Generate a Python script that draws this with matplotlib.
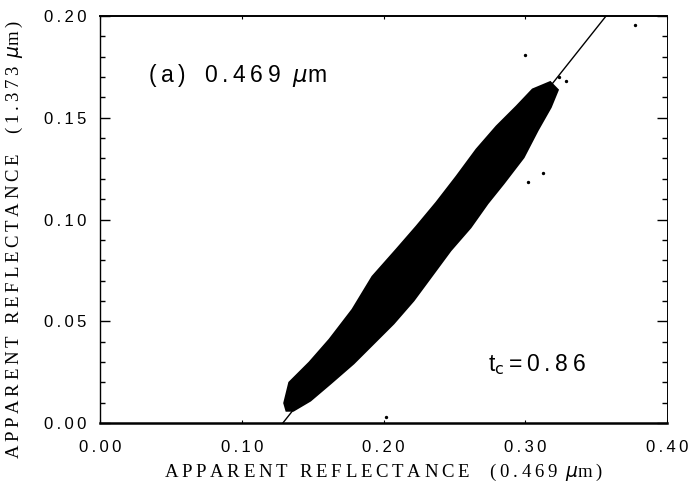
import matplotlib
matplotlib.use("Agg")
import matplotlib.pyplot as plt
from matplotlib.ticker import MultipleLocator

# Outline of the dense scatter cloud (x = 0.469 um reflectance, y = 1.373 um reflectance)
cloud_upper_x = [0.1305, 0.1340, 0.1481, 0.1623, 0.1785, 0.1926, 0.2095, 0.2236,
                 0.2377, 0.2519, 0.2660, 0.2801, 0.2942, 0.3055, 0.3175]
cloud_upper_y = [0.0098, 0.0197, 0.0295, 0.0408, 0.0555, 0.0717, 0.0850, 0.0963,
                 0.1081, 0.1209, 0.1342, 0.1455, 0.1553, 0.1636, 0.1671]
cloud_lower_x = [0.3224, 0.3175, 0.3083, 0.2984, 0.2843, 0.2730, 0.2610, 0.2469,
                 0.2328, 0.2208, 0.2067, 0.1926, 0.1785, 0.1623, 0.1481, 0.1362, 0.1319]
cloud_lower_y = [0.1636, 0.1553, 0.1440, 0.1307, 0.1179, 0.1081, 0.0963, 0.0850,
                 0.0717, 0.0604, 0.0491, 0.0393, 0.0295, 0.0197, 0.0113, 0.0064, 0.0064]

# A few isolated points outside the cloud
stray_x = [0.2998, 0.3125, 0.3020, 0.2018, 0.3774, 0.3240, 0.3290]
stray_y = [0.1808, 0.1229, 0.1184, 0.0030, 0.1956, 0.1700, 0.1680]

# Fitted line end points
line_x = [0.129, 0.357]
line_y = [0.0, 0.200]

x_ticks = [0.00, 0.10, 0.20, 0.30, 0.40]
y_ticks = [0.00, 0.05, 0.10, 0.15, 0.20]

TS = "\u2009"  # thin space used as letter spacing (the scanned type is widely spaced)


def spaced(s):
    return TS.join(s)


SANS = ["Liberation Sans", "DejaVu Sans"]
SERIF = ["Liberation Serif", "DejaVu Serif"]

fig = plt.figure(figsize=(6.94, 4.93), dpi=100)
ax = fig.add_axes([100/694, 1-423/493, 567/694, 407/493])

ax.fill(cloud_upper_x + cloud_lower_x, cloud_upper_y + cloud_lower_y,
        facecolor="black", edgecolor="black", linewidth=2.5, zorder=2)
ax.scatter(stray_x, stray_y, s=2, color="black", zorder=2)
ax.plot(line_x, line_y, color="black", linewidth=1.0, zorder=3)

ax.set_xlim(0, 0.40)
ax.set_ylim(0, 0.20)
ax.set_xticks(x_ticks)
ax.set_yticks(y_ticks)
ax.set_xticklabels([spaced(f"{v:.2f}") for v in x_ticks], family=SANS, fontsize=12)
ax.set_yticklabels([spaced(f"{v:.2f}") for v in y_ticks], family=SANS, fontsize=12)
ax.yaxis.set_minor_locator(MultipleLocator(0.01))
ax.tick_params(axis="y", which="major", direction="in", length=7, width=1.0,
               left=True, right=True, pad=10)
ax.tick_params(axis="y", which="minor", direction="in", length=3.5, width=1.0,
               left=True, right=True)
ax.tick_params(axis="x", which="major", direction="in", length=2, width=0.8,
               top=True, bottom=True, pad=12)

for side, lw in [("left", 1.0), ("right", 0.7), ("top", 1.4), ("bottom", 1.8)]:
    ax.spines[side].set_linewidth(lw)

ax.set_xlabel(spaced("APPARENT REFLECTANCE  (0.469 ") + "$\\mu$" + spaced("m)"),
              family=SERIF, fontsize=13.5, labelpad=5)
ax.set_ylabel(spaced("APPARENT REFLECTANCE  (1.373 ") + "$\\mu$" + spaced("m)"),
              family=SERIF, fontsize=13.5)
ax.yaxis.set_label_coords(-0.132, 0.452)

ax.text(0.034, 0.171, spaced("(a)") + "   " + spaced("0.469") + "  $\\mu$" + spaced("m"),
        family=SANS, fontsize=16.5, va="center", ha="left")
ax.text(0.274, 0.0285, "t$_\\mathrm{c}$" + TS + spaced("=0.86"),
        family=SANS, fontsize=16.5, va="center", ha="left")

fig.savefig("out.png", dpi=100)
